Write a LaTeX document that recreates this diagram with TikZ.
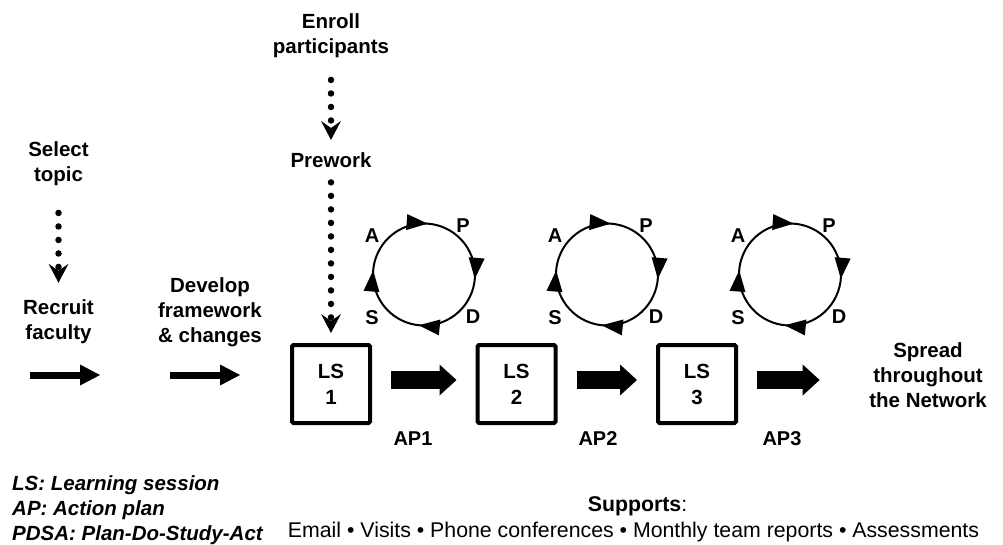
\documentclass[tikz,border=0pt]{standalone}
\usepackage{fontspec}
\setmainfont{Liberation Sans}
\usetikzlibrary{arrows.meta,decorations.markings}
\begin{document}
\begin{tikzpicture}[x=1pt,y=-1pt,
  lbl/.style={font=\bfseries\fontsize{20.5}{25}\selectfont, align=center, inner sep=0pt},
  cyclbl/.style={font=\bfseries\fontsize{20}{24}\selectfont, inner sep=0pt},
  aplbl/.style={font=\bfseries\fontsize{20}{24}\selectfont, inner sep=0pt, anchor=base},
  lsbox/.style={draw, line width=4pt, minimum size=78pt, inner sep=0pt, outer sep=0pt, align=center,
    font=\bfseries\fontsize{20.5}{26}\selectfont, rounded corners=1.5pt},
  dotarrow/.style={line width=6.5pt, line cap=round, dash pattern=on 0pt off 13.5pt,
    -{Stealth[length=19pt,width=20pt,inset=7pt,line width=0pt]}},
  thinarrow/.style={line width=7pt, -{Triangle[length=20pt,width=21pt,line width=0pt]}},
  bigarrow/.style={line width=18pt, -{Triangle[length=17pt,width=31pt,line width=0pt]},
    shorten <=21pt, shorten >=21pt},
  pdsa/.style={line width=2pt, decoration={markings,
    mark=at position 0.068 with {\arrow{Triangle[length=21pt,width=16pt,line width=0pt]}},
    mark=at position 0.317 with {\arrow{Triangle[length=21pt,width=16pt,line width=0pt]}},
    mark=at position 0.569 with {\arrow{Triangle[length=21pt,width=16pt,line width=0pt]}},
    mark=at position 0.822 with {\arrow{Triangle[length=21pt,width=16pt,line width=0pt]}}},
    postaction={decorate}}
]
\useasboundingbox (0,0) rectangle (1003,544);

% text labels
\node[lbl] (select) at (58.5,164) {Select\\topic};
\node[lbl] (recruit) at (58.5,322) {Recruit\\faculty};
\node[lbl] (develop) at (210,312.7) {Develop\\framework\\\& changes};
\node[lbl] (enroll) at (331,36) {Enroll\\participants};
\node[lbl, anchor=base] (prework) at (331,167) {Prework};
\node[lbl] (spread) at (928,375) {Spread\\throughout\\the Network};

% learning session boxes
\node[lsbox] (ls1) at (331,384) {LS\\1};
\node[lsbox] (ls2) at (516.5,384) {LS\\2};
\node[lsbox] (ls3) at (697,384) {LS\\3};

% dotted arrows
\draw[dotarrow, shorten <=26.7pt, shorten >=17pt] (select) -- (recruit);
\draw[dotarrow, shorten <=21.7pt, shorten >=12pt] (enroll) -- (prework);
\draw[dotarrow, shorten <=15pt, shorten >=12pt] (prework) -- (ls1);

% thin arrows
\coordinate (t1s) at (30,375);
\coordinate (t1e) at (100,375);
\coordinate (t2s) at (170,375);
\coordinate (t2e) at (240,375);
\draw[thinarrow] (t1s) -- (t1e);
\draw[thinarrow] (t2s) -- (t2e);

% big arrows
\draw[bigarrow] ([yshift=4pt]ls1.east) -- ([yshift=4pt]ls2.west);
\draw[bigarrow] ([yshift=4pt]ls2.east) -- ([yshift=4pt]ls3.west);
\draw[bigarrow, shorten >=49.5pt] ([yshift=4pt]ls3.east) -- ([yshift=4pt]ls3.east -| spread.west);

\node[aplbl] (ap1) at (413,445) {AP1};
\node[aplbl] (ap2) at (598,445) {AP2};
\node[aplbl] (ap3) at (782,445) {AP3};

% PDSA cycles
\foreach \cx/\n in {424/1,607/2,790/3}{
  \begin{scope}[shift={(\cx,274.5)}, yscale=-1]
    \draw[pdsa] (200:51) arc[start angle=200, end angle=-160, radius=51];
    \node[cyclbl] (A\n) at (-52,39) {A};
    \node[cyclbl] (P\n) at (39,49) {P};
    \node[cyclbl] (S\n) at (-52,-43) {S};
    \node[cyclbl] (D\n) at (49,-42) {D};
  \end{scope}
}

% legend and supports
\node[font=\bfseries\itshape\fontsize{20.5}{25}\selectfont, align=left, inner sep=0pt, anchor=west]
  (legend) at (12,509.7) {LS: Learning session\\AP: Action plan\\PDSA: Plan-Do-Study-Act};
\node[font=\fontsize{21.3}{25}\selectfont, inner sep=0pt, anchor=base] (supports) at (637.5,511) {\textbf{Supports}:};
\node[font=\fontsize{21.3}{25}\selectfont, inner sep=0pt, anchor=base] (supportlist) at (633.5,537)
  {Email • Visits • Phone conferences • Monthly team reports • Assessments};
\end{tikzpicture}
\end{document}
